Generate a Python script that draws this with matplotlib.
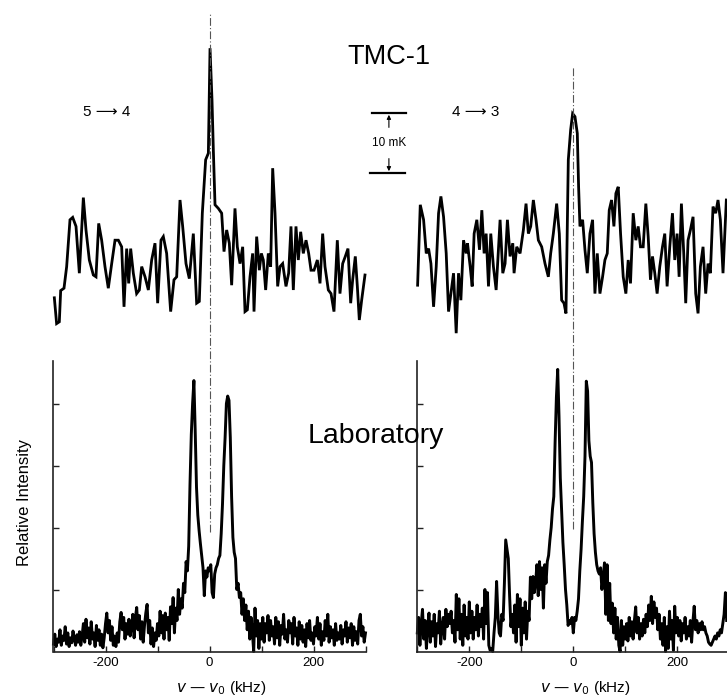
import numpy as np
import matplotlib
matplotlib.use("Agg")
import matplotlib.pyplot as plt
from matplotlib import transforms
from matplotlib.ticker import FixedLocator

plt.rcParams['font.family'] = ['Liberation Sans', 'DejaVu Sans']

# ---------------- data ----------------
# TMC-1, 5 -> 4 (frequency offset kHz, antenna temperature mK)
tmc54_khz = [-298.4, -294.0, -288.8, -286.2, -279.8, -274.7, -268.3, -263.1, -256.7, -250.3,
             -242.6, -237.5, -231.1, -223.4, -218.3, -213.1, -207.4, -201.0, -194.6, -188.1,
             -181.7, -175.3, -168.9, -164.4, -159.3, -155.4, -151.6, -146.5, -140.1, -134.9,
             -130.4, -124.0, -117.6, -111.2, -104.8, -99.7, -93.3, -88.8, -82.4, -74.7,
             -68.3, -63.1, -56.7, -51.6, -45.2, -38.8, -31.1, -24.7, -19.6, -13.8,
             -7.4, -2.2, 1.0, 4.8, 7.4, 10.6, 17.0, 23.4, 27.9, 33.0,
             38.1, 42.6, 49.0, 53.5, 58.7, 63.8, 68.3, 72.8, 77.9, 83.0,
             85.6, 90.7, 95.8, 99.7, 103.5, 108.0, 113.1, 117.6, 121.5, 126.0,
             131.1, 135.6, 140.7, 147.1, 152.2, 156.7, 161.2, 166.3, 170.8, 175.3,
             180.4, 185.6, 190.7, 195.2, 201.0, 207.4, 212.5, 217.6, 222.1, 228.5,
             233.7, 239.4, 245.8, 250.9, 256.1, 261.2, 266.3, 271.5, 275.3, 280.4,
             284.3, 288.1, 292.6, 299.0]
tmc54_mk = [-3.8, -8.1, -7.8, -2.6, -2.2, 1.4, 9.2, 9.6, 8.1, 0.3,
            12.9, 7.5, 2.5, 0.0, -0.3, 8.6, 5.8, 1.4, -2.2, 1.9,
            5.8, 5.8, 4.7, -5.3, 4.4, -1.4, 4.4, 0.3, -3.1, -2.5,
            1.4, -0.3, -2.5, 2.5, 5.3, -4.7, 5.8, 6.4, 3.6, -6.1,
            -0.8, -0.3, 12.5, 8.1, 1.9, -0.6, 6.9, -4.7, -4.4, 10.3,
            19.2, 20.3, 37.8, 29.2, 20.8, 11.7, 11.1, 10.3, 3.9, 7.5,
            5.3, -1.7, 11.1, 4.7, 1.9, 4.7, -6.1, -5.8, -0.3, 3.6,
            -6.1, 6.4, 0.8, 3.6, 2.5, -2.5, 3.6, 1.4, 17.8, 10.3,
            -1.9, 1.4, 1.9, -1.9, 0.3, 8.1, -2.5, 8.1, 2.5, 7.2,
            3.6, 5.8, 3.6, 0.8, 0.8, 2.5, -1.4, 6.9, 1.4, -2.5,
            -3.1, -6.1, 5.8, -3.1, 1.9, 3.1, 4.4, -4.7, -0.8, 3.1,
            -1.9, -7.5, -4.2, 0.0]

# TMC-1, 4 -> 3
tmc43_khz = [-299.4, -294.3, -287.9, -282.8, -278.3, -273.8, -268.7, -263.6, -259.1, -254.6,
             -249.5, -244.4, -239.9, -235.4, -230.3, -225.2, -220.7, -216.2, -211.1, -206.0,
             -203.5, -198.3, -194.5, -190.7, -185.5, -180.4, -175.9, -171.5, -167.6, -163.1,
             -158.7, -153.6, -148.4, -144.0, -140.8, -135.6, -131.2, -126.7, -121.6, -116.4,
             -113.9, -108.8, -102.4, -96.0, -90.9, -86.4, -81.9, -76.8, -71.7, -67.2,
             -60.8, -54.4, -48.0, -43.5, -38.4, -32.0, -26.9, -22.4, -17.9, -14.1,
             -9.6, -5.1, -1.3, 3.2, 7.7, 10.2, 12.8, 17.9, 22.4, 26.9,
             32.0, 37.1, 41.6, 46.1, 51.2, 56.3, 60.8, 65.3, 69.1, 73.6,
             78.1, 81.9, 86.4, 90.9, 96.0, 101.1, 105.6, 110.0, 115.2, 120.3,
             124.8, 129.2, 134.4, 139.5, 144.0, 148.4, 152.3, 156.7, 161.2, 166.3,
             171.5, 175.9, 180.4, 185.5, 190.7, 195.1, 199.6, 203.5, 207.9, 212.4,
             216.2, 220.7, 225.2, 230.3, 235.4, 239.9, 244.4, 249.5, 254.6, 259.1,
             263.6, 268.7, 273.8, 278.3, 282.8, 287.9, 294.3]
tmc43_mk = [-1.7, 11.7, 9.2, 3.6, 4.4, 1.9, -5.3, 1.4, 10.3, 13.1,
            9.7, 3.6, -6.1, -3.1, 0.3, -9.7, 0.3, -4.2, 5.8, 3.6,
            5.3, 1.4, -1.9, 6.9, 9.2, 4.2, 10.8, 3.6, 6.9, -1.9,
            6.9, 1.4, -2.5, 4.2, 9.2, 0.3, 1.9, 9.2, 3.1, 5.3,
            0.3, 4.7, 3.6, 7.5, 11.9, 6.9, 8.1, 12.5, 9.2, 5.8,
            4.7, 1.9, -0.3, 3.6, 6.9, 11.9, 6.9, -4.2, -4.7, -6.4,
            19.2, 24.2, 26.9, 26.4, 23.6, 14.7, 8.1, 9.2, 4.2, 0.3,
            6.9, 9.2, -3.1, 3.6, -3.1, -0.3, 2.5, 3.6, 10.8, 12.5,
            8.1, 13.6, 14.7, 6.9, -0.3, -3.1, 2.5, -1.4, 10.3, 5.8,
            8.1, 4.7, 4.7, 11.9, 6.4, -0.8, 3.1, 0.3, -3.1, 1.4,
            4.7, 6.9, -1.9, 4.7, 10.3, 2.5, 6.9, -0.3, 11.9, 3.6,
            -4.7, 5.8, 7.5, 9.7, -3.1, -6.4, 1.4, 4.7, -3.1, 1.9,
            0.3, 11.4, 10.3, 12.5, 9.2, 0.3, 12.5]

# Laboratory spectra (relative intensity), channels every 2.5 kHz starting at -300 kHz
lab_start_khz = -300.0
lab_step_khz = 2.5
lab54_int = [
    0.12, 0.28, 0.08, 0.20, 0.15, 0.35, 0.10, 0.25, 0.18, 0.40, 0.12, 0.30, 0.08, 0.22, 0.14, 0.33, 0.20, 0.10, 0.27, 0.15,
    0.32, 0.10, 0.25, 0.45, 0.15, 0.52, 0.22, 0.38, 0.12, 0.48, 0.20, 0.30, 0.08, 0.42, 0.18, 0.35, 0.10, 0.28, 0.06, 0.22,
    0.45, 0.62, 0.30, 0.50, 0.18, 0.40, 0.10, 0.25, 0.08, 0.30, 0.15, 0.48, 0.63, 0.35, 0.55, 0.20, 0.45, 0.28, 0.52, 0.25,
    0.40, 0.60, 0.22, 0.55, 0.71, 0.35, 0.58, 0.20, 0.48, 0.15, 0.42, 0.62, 0.76, 0.30, 0.50, 0.12, 0.38, 0.08, 0.30, 0.18,
    0.45, 0.25, 0.65, 0.30, 0.58, 0.20, 0.62, 0.35, 0.55, 0.18, 0.72, 0.45, 0.87, 0.30, 0.70, 0.50, 1.00, 0.60, 0.85, 0.70,
    1.10, 0.95, 1.45, 1.30, 1.70, 2.70, 3.50, 4.00, 4.37, 3.56, 2.65, 2.20, 1.95, 1.74, 1.55, 1.35, 0.90, 1.30, 1.20, 1.35,
    1.30, 1.40, 0.95, 0.87, 1.25, 1.35, 1.40, 1.50, 1.55, 1.90, 2.38, 3.00, 3.45, 4.00, 4.12, 4.05, 3.45, 2.50, 1.84, 1.60,
    1.50, 1.00, 1.10, 0.87, 0.95, 0.60, 0.85, 0.50, 0.75, 0.35, 0.65, 0.20, 0.55, 0.30, 0.00, 0.70, 0.25, 0.50, 0.05, 0.45,
    0.20, 0.55, 0.15, 0.45, 0.30, 0.58, 0.18, 0.50, 0.25, 0.40, 0.12, 0.55, 0.22, 0.48, 0.10, 0.42, 0.28, 0.60, 0.20, 0.35,
    0.15, 0.50, 0.30, 0.45, 0.12, 0.55, 0.25, 0.38, 0.10, 0.48, 0.20, 0.42, 0.15, 0.35, 0.08, 0.45, 0.22, 0.50, 0.18, 0.30,
    0.12, 0.40, 0.25, 0.55, 0.20, 0.45, 0.10, 0.32, 0.18, 0.50, 0.25, 0.60, 0.15, 0.40, 0.22, 0.35, 0.10, 0.45, 0.18, 0.30,
    0.20, 0.42, 0.12, 0.35, 0.25, 0.48, 0.15, 0.38, 0.22, 0.45, 0.10, 0.40, 0.18, 0.32, 0.12, 0.50, 0.60, 0.25, 0.40, 0.15,
    0.30]
lab43_int = [
    0.30, 0.55, 0.10, 0.45, 0.68, 0.20, 0.50, 0.05, 0.40, 0.62, 0.15, 0.48, 0.25, 0.60, 0.08, 0.45, 0.30, 0.65, 0.12, 0.40,
    0.55, 0.20, 0.68, 0.40, 0.60, 0.45, 0.65, 0.30, 0.50, 0.15, 0.92, 0.35, 0.85, 0.20, 0.60, 0.10, 0.75, 0.25, 0.55, 0.20,
    0.80, 0.30, 0.65, 0.20, 0.55, 0.35, 0.75, 0.25, 0.60, 0.40, 0.70, 0.20, 1.00, 0.45, 0.95, 0.10, 0.02, 0.05, 0.00, 0.30,
    0.55, 1.13, 0.60, 0.30, 0.25, 0.60, 0.50, 1.10, 1.80, 1.65, 1.50, 0.90, 0.40, 0.60, 0.30, 0.75, 0.15, 0.92, 0.40, 0.85,
    0.10, 0.70, 0.30, 0.80, 0.20, 0.65, 0.50, 1.20, 0.85, 1.21, 0.95, 1.10, 1.40, 0.90, 1.45, 1.00, 1.35, 0.70, 1.40, 1.10,
    1.45, 1.55, 1.80, 2.00, 2.30, 2.50, 3.37, 4.10, 4.55, 3.80, 2.80, 2.30, 1.76, 1.40, 1.00, 0.75, 0.42, 0.50, 0.45, 0.55,
    0.30, 0.55, 0.50, 0.65, 0.85, 1.30, 1.65, 2.10, 2.50, 3.15, 4.36, 4.20, 3.40, 3.15, 3.05, 2.40, 1.90, 1.60, 1.40, 1.30,
    1.25, 1.35, 1.00, 1.20, 1.43, 0.60, 1.40, 0.50, 1.10, 0.45, 0.78, 0.30, 0.70, 0.20, 0.55, 0.10, 0.00, 0.50, 0.10, 0.40,
    0.20, 0.45, 0.17, 0.55, 0.25, 0.48, 0.20, 0.50, 0.72, 0.30, 0.55, 0.20, 0.45, 0.25, 0.52, 0.30, 0.60, 0.40, 0.75, 0.50,
    0.89, 0.45, 0.80, 0.55, 0.70, 0.35, 0.60, 0.20, 0.45, 0.10, 0.55, 0.00, 0.40, 0.05, 0.65, 0.20, 0.50, 0.02, 0.73, 0.30,
    0.55, 0.25, 0.50, 0.17, 0.45, 0.30, 0.55, 0.20, 0.40, 0.25, 0.50, 0.15, 0.48, 0.73, 0.35, 0.50, 0.30, 0.45, 0.35, 0.48,
    0.35, 0.40, 0.30, 0.25, 0.15, 0.12, 0.10, 0.15, 0.20, 0.25, 0.20, 0.30, 0.25, 0.35, 0.30, 0.45, 0.60, 0.95, 0.50]

lab54_khz = lab_start_khz + lab_step_khz * np.arange(len(lab54_int))
lab43_khz = lab_start_khz + lab_step_khz * np.arange(len(lab43_int))

xticks_major = [-200, 0, 200]
xtick_labels = ['-200', '0', '200']
xticks_minor = [-300, -100, 100, 300]
yticks_lab = [1, 2, 3, 4]

# ---------------- figure ----------------
W, H = 727, 699
fig = plt.figure(figsize=(W / 100, H / 100), dpi=100)

def fx(px):
    return px / W

def fy(py):
    return 1 - py / H

ax_w = 312 / W
lefts = [53.5, 417.3]

# top (TMC-1) axes: 0 mK at py 275, 6 px per mK
top_bottom_px, top_top_px = 345, 10
top_ylim = ((275 - top_bottom_px) / 6.0, (275 - top_top_px) / 6.0)
bot_bottom_px, bot_top_px = 651.5, 361
bot_ylim = (0, (bot_bottom_px - bot_top_px) / 62.0)

tops = []
bots = []
for L in lefts:
    at = fig.add_axes([fx(L), fy(top_bottom_px), ax_w, (top_bottom_px - top_top_px) / H])
    at.set_xlim(-300, 300)
    at.set_ylim(*top_ylim)
    at.axis('off')
    tops.append(at)
    ab = fig.add_axes([fx(L), fy(bot_bottom_px), ax_w, (bot_bottom_px - bot_top_px) / H])
    ab.set_xlim(-300, 300)
    ab.set_ylim(*bot_ylim)
    for s in ['top', 'right']:
        ab.spines[s].set_visible(False)
    for s in ['left', 'bottom']:
        ab.spines[s].set_linewidth(1.2)
        ab.spines[s].set_color('#222222')
    ab.xaxis.set_major_locator(FixedLocator(xticks_major))
    ab.xaxis.set_minor_locator(FixedLocator(xticks_minor))
    ab.yaxis.set_major_locator(FixedLocator(yticks_lab))
    ab.set_yticklabels([])
    ab.tick_params(axis='both', which='both', direction='in', length=4, width=1.0,
                   color='#222222')
    ab.tick_params(axis='x', which='major', labelsize=9.5, pad=4)
    ab.set_xticklabels(xtick_labels)
    ab.set_xlabel(r'$v$ — $v_0$ (kHz)', fontsize=11)
    ab.xaxis.set_label_coords(0.5 + 12 / 312, (bot_bottom_px - 699 + 2) / (bot_bottom_px - bot_top_px))
    ab.xaxis.label.set_va('bottom')
    bots.append(ab)

lw = 2.0
tops[0].plot(tmc54_khz, tmc54_mk, color='black', lw=lw, clip_on=False, solid_joinstyle='miter')
tops[1].plot(tmc43_khz, tmc43_mk, color='black', lw=lw, clip_on=False, solid_joinstyle='miter')
bots[0].plot(lab54_khz, lab54_int, color='black', lw=2.1, clip_on=False)
bots[1].plot(lab43_khz, lab43_int, color='black', lw=2.1, clip_on=False)

fig.text(fx(25), fy(502), 'Relative Intensity', fontsize=12, rotation=90,
         ha='center', va='center')

# dash-dot centre lines
for ab, y0, y1 in [(bots[0], 532, 13), (bots[1], 529, 67)]:
    tr = transforms.blended_transform_factory(ab.transData, fig.transFigure)
    ln = plt.Line2D([0, 0], [fy(y0), fy(y1)], transform=tr, color='#555555',
                    lw=0.8, linestyle=(0, (7, 2, 1, 2)), clip_on=False)
    fig.add_artist(ln)

# scale bar (10 mK) in the top-left axes
sb_x0, sb_x1 = 312, 378
sb_top, sb_bot = 27.0, 17.0
sb_xc = 345
at = tops[0]
at.plot([sb_x0, sb_x1], [sb_top, sb_top], color='black', lw=1.6, clip_on=False)
at.plot([sb_x0 - 3, sb_x1 - 3], [sb_bot, sb_bot], color='black', lw=1.6, clip_on=False)
at.annotate('', xy=(sb_xc, sb_top - 0.3), xytext=(sb_xc, sb_top - 2.4),
            arrowprops=dict(arrowstyle='-|>', color='black', lw=0.8,
                            mutation_scale=6, shrinkA=0, shrinkB=0),
            annotation_clip=False)
at.annotate('', xy=(sb_xc, sb_bot + 0.3), xytext=(sb_xc, sb_bot + 2.4),
            arrowprops=dict(arrowstyle='-|>', color='black', lw=0.8,
                            mutation_scale=6, shrinkA=0, shrinkB=0),
            annotation_clip=False)
at.text(sb_xc, (sb_top + sb_bot) / 2, '10 mK', fontsize=8.5, ha='center', va='center',
        clip_on=False)

# labels
fig.text(fx(389), fy(57), 'TMC-1', fontsize=19.5, ha='center', va='center')
fig.text(fx(376), fy(436), 'Laboratory', fontsize=20.5, ha='center', va='center')
fig.text(fx(107), fy(112), '5 ⟶ 4', fontsize=11, ha='center', va='center')
fig.text(fx(476), fy(112), '4 ⟶ 3', fontsize=11, ha='center', va='center')

fig.savefig('out.png', dpi=100)
